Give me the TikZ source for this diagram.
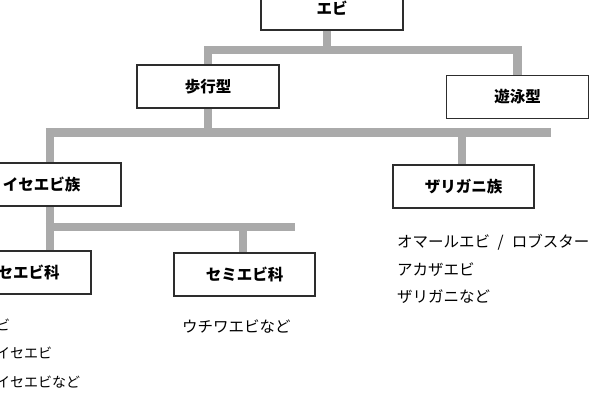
\documentclass[tikz,border=0pt]{standalone}
\usepackage{fontspec}
\usetikzlibrary{backgrounds}
\newfontfamily\jp{Noto Sans CJK JP}
\definecolor{barc}{RGB}{170,170,170}
\definecolor{edgec}{RGB}{45,45,45}
\begin{document}
\begin{tikzpicture}[x=1pt,y=-1pt,
  box/.style={draw=edgec, line width=1.2pt, fill=white, minimum width=142pt, minimum height=43pt, inner sep=0pt, font=\jp\bfseries\fontsize{15.5}{18}\selectfont},
  item/.style={anchor=west, inner sep=0pt, font=\jp\fontsize{15.5}{18}\selectfont},
  itemsm/.style={anchor=west, inner sep=0pt, font=\jp\fontsize{14}{17}\selectfont},
  bar/.style={draw=barc, line width=8.5pt, line cap=butt, line join=miter}]
\useasboundingbox (0,0) rectangle (604,417);
\clip (0,0) rectangle (604,417);

% boxes
\node[box] (ebi) at (332,8.5) {エビ\hspace{16pt}};
\node[box] (hoko) at (208,86.5) {歩行型};
\node[box] (yuei) at (517.5,97) {遊泳型};
\node[box, minimum width=159pt] (isezoku) at (41.5,184.5) {イセエビ族};
\node[box, minimum width=141pt] (zari) at (463.5,186.5) {ザリガニ族};
\node[box, minimum width=140pt] (iseka) at (21,272.5) {イセエビ科};
\node[box, minimum width=141pt] (semi) at (244.5,274.5) {セミエビ科};

% lists
\node[item] (z1) at (397,242) {オマールエビ\hspace{7.5pt}/\hspace{8pt}ロブスター};
\node[item] (z2) at (397,270) {アカザエビ};
\node[item] (z3) at (397,297) {ザリガニなど};
\node[item] (s1) at (182,327) {ウチワエビなど};
\node[itemsm] (i1) at (-46,325) {イセエビ};
\node[itemsm] (i2) at (-46,353) {カノコイセエビ};
\node[itemsm] (i3) at (-46,382) {ケブカイセエビなど};

% connector points
\coordinate (t0) at (327,50);
\coordinate (tl) at (208,50);
\coordinate (tr) at (517.5,50);
\coordinate (m0) at (208,132.5);
\coordinate (ml) at (45.75,132.5);
\coordinate (mr) at (551,132.5);
\coordinate (m1) at (50,132.5);
\coordinate (m2) at (462,132.5);
\coordinate (n1) at (50,227);
\coordinate (nl) at (45.75,227);
\coordinate (n2) at (243,227);
\coordinate (nr) at (295,227);

\begin{pgfonlayer}{background}
\fill[white] (0,0) rectangle (604,417);
\draw[bar] (ebi.south -| t0) -- (t0);
\draw[bar] (hoko.north) -- (tl) -- (tr) -- (yuei.north);
\draw[bar] (hoko.south) -- (m0);
\draw[bar] (ml) -- (mr);
\draw[bar] (m1) -- (m1 |- isezoku.north);
\draw[bar] (m2) -- (m2 |- zari.north);
\draw[bar] (n1 |- isezoku.south) -- (n1 |- iseka.north);
\draw[bar] (nl) -- (nr);
\draw[bar] (n2) -- (n2 |- semi.north);
\end{pgfonlayer}
\end{tikzpicture}
\end{document}
